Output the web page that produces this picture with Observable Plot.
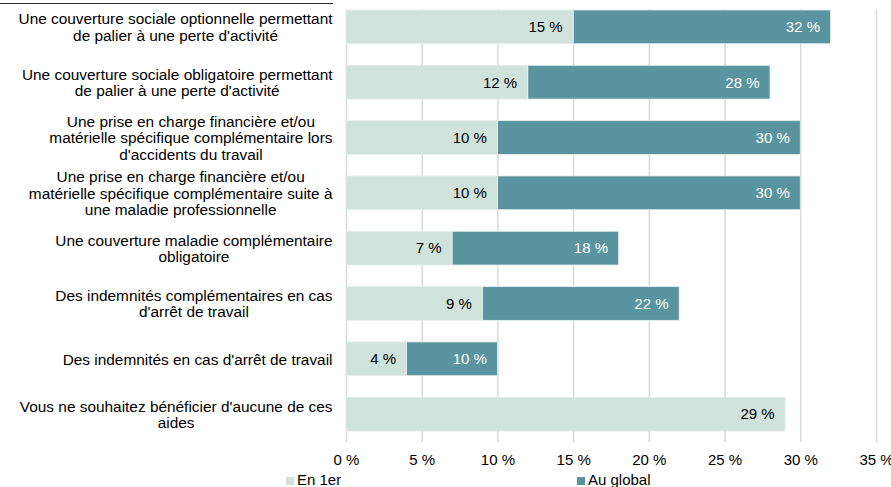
<!DOCTYPE html>
<html><head><meta charset="utf-8">
<script src="https://cdn.jsdelivr.net/npm/d3@7"></script>
<script src="https://cdn.jsdelivr.net/npm/@observablehq/plot@0.6"></script>
<style>
body{margin:0;background:#fff;font-family:"Liberation Sans",Arial,sans-serif;}
#wrap{position:relative;width:891px;height:487px;overflow:hidden;background:#fff}
#topline{position:absolute;left:0;top:3px;width:333px;border-top:1.5px solid #333;z-index:5}
#chart{position:absolute;left:0;top:0}
.leg{position:absolute;top:471px;font-size:15px;color:#000;white-space:nowrap;line-height:17px;z-index:5}
.sw{display:inline-block;width:8px;height:8px;margin-right:3px;vertical-align:0px}
</style></head><body>
<div id="wrap"><div id="chart"></div><div id="topline"></div>
<div class="leg" id="leg1"></div><div class="leg" id="leg2"></div></div>
<script>
const categories = [
  "Une couverture sociale optionnelle permettant\nde palier à une perte d'activité",
  "Une couverture sociale obligatoire permettant\nde palier à une perte d'activité",
  "Une prise en charge financière et/ou\nmatérielle spécifique complémentaire lors\nd'accidents du travail",
  "Une prise en charge financière et/ou\nmatérielle spécifique complémentaire suite à\nune maladie professionnelle",
  "Une couverture maladie complémentaire\nobligatoire",
  "Des indemnités complémentaires en cas\nd'arrêt de travail",
  "Des indemnités en cas d'arrêt de travail",
  "Vous ne souhaitez bénéficier d'aucune de ces\naides"
];
const en1er = [15, 12, 10, 10, 7, 9, 4, 29];
const auGlobal = [32, 28, 30, 30, 18, 22, 10, null];
const xTicks = [0, 5, 10, 15, 20, 25, 30, 35];
const seriesNames = ["En 1er", "Au global"];
const colors = ["#d0e2dc", "#5a94a0"];

const rows = categories.map((c, i) => ({cat: c, en1er: en1er[i], global: auGlobal[i]}));
const globalRows = rows.filter(d => d.global != null);

const fontSize = 15;
const catFontSize = 15.4;
const ctx = document.createElement("canvas").getContext("2d");
ctx.font = `${catFontSize}px "Liberation Sans", Arial, sans-serif`;
const gap = 14;

const labelMarks = categories.map(c => {
  const w = d3.max(c.split("\n"), l => ctx.measureText(l).width);
  return Plot.text([c], {
    x: 0, y: d => d, text: d => d,
    textAnchor: "middle", lineAnchor: "middle", lineHeight: 1.07,
    dx: -(gap + w / 2), fill: "#000", fontSize: catFontSize
  });
});

const chart = Plot.plot({
  width: 891,
  height: 472,
  marginLeft: 346,
  marginRight: 15,
  marginTop: 9,
  marginBottom: 30,
  style: {fontFamily: '"Liberation Sans", Arial, sans-serif', fontSize: "15px", background: "#fff", color: "#000"},
  x: {domain: [0, 35], ticks: xTicks},
  y: {domain: categories, range: [10, 431], paddingInner: 0.39, paddingOuter: 0, round: false, axis: null},
  marks: [
    Plot.ruleX(xTicks, {stroke: "#d9d9d9", strokeWidth: 1.5}),
    Plot.barX(globalRows, {y: "cat", x1: "en1er", x2: "global", fill: colors[1], stroke: "#e8eeee", strokeWidth: 0.8}),
    Plot.barX(rows, {y: "cat", x1: 0, x2: "en1er", fill: colors[0], stroke: "#e8eeee", strokeWidth: 0.8}),
    Plot.text(rows, {y: "cat", x: "en1er", text: d => `${d.en1er} %`, textAnchor: "end", dx: -11, fill: "#000", fontSize}),
    Plot.text(globalRows, {y: "cat", x: "global", text: d => `${d.global} %`, textAnchor: "end", dx: -11, fill: "#fff", fontSize}),
    Plot.axisX({ticks: xTicks, tickSize: 0, tickPadding: 12, tickFormat: d => `${d} %`, fontSize, label: null}),
    ...labelMarks
  ]
});
document.getElementById("chart").appendChild(chart);

const leg = [["leg1", 286], ["leg2", 577]];
leg.forEach(([id, left], i) => {
  const el = document.getElementById(id);
  el.style.left = left + "px";
  el.innerHTML = `<span class="sw" style="background:${colors[i]}"></span>${seriesNames[i]}`;
});
</script>
</body></html>
